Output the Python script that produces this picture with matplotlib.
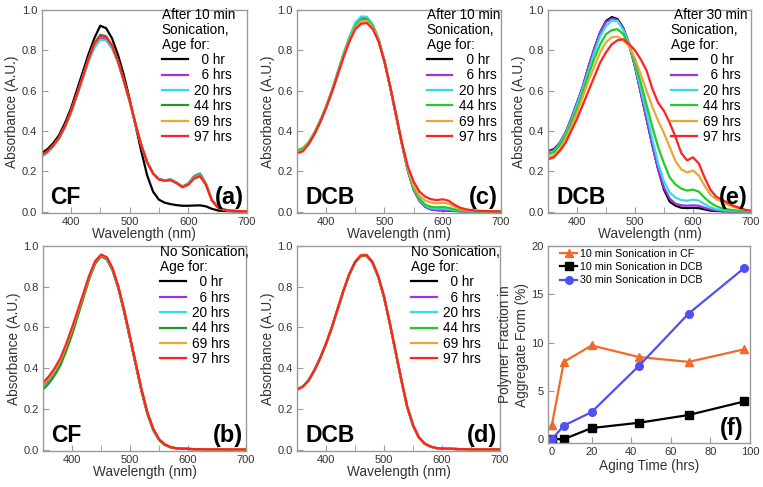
import numpy as np
import matplotlib
matplotlib.use('Agg')
import matplotlib.pyplot as plt
from matplotlib.ticker import MultipleLocator, FormatStrFormatter

plt.rcParams['font.family'] = ['Liberation Sans', 'DejaVu Sans']

# wavelength grid (nm)
wl = list(range(350, 701, 10))

ages = ['  0 hr', '  6 hrs', '20 hrs', '44 hrs', '69 hrs', '97 hrs']

# (a) CF, 10 min sonication
a_0 = [0.29, 0.31, 0.34, 0.38, 0.44, 0.51, 0.60, 0.69, 0.78, 0.86, 0.922, 0.91, 0.86, 0.78, 0.68, 0.56, 0.43, 0.30, 0.18, 0.10,
       0.06, 0.045, 0.038, 0.033, 0.030, 0.030, 0.031, 0.032, 0.027, 0.015, 0.007, 0.004, 0.003, 0.002, 0.002, 0.002]
a_6 = [0.275, 0.295, 0.325, 0.365, 0.42, 0.49, 0.575, 0.66, 0.75, 0.82, 0.862, 0.855, 0.815, 0.745, 0.65, 0.55, 0.435, 0.33, 0.245, 0.19,
       0.162, 0.156, 0.16, 0.145, 0.125, 0.14, 0.178, 0.19, 0.14, 0.06, 0.024, 0.011, 0.006, 0.004, 0.003, 0.002]
a_20 = [0.272, 0.292, 0.322, 0.362, 0.418, 0.487, 0.57, 0.655, 0.742, 0.812, 0.853, 0.848, 0.81, 0.742, 0.648, 0.548, 0.434, 0.33, 0.245, 0.19,
        0.162, 0.156, 0.16, 0.145, 0.125, 0.14, 0.176, 0.188, 0.14, 0.06, 0.024, 0.011, 0.006, 0.004, 0.003, 0.002]
a_44 = [0.278, 0.298, 0.328, 0.368, 0.424, 0.494, 0.58, 0.668, 0.758, 0.835, 0.877, 0.87, 0.825, 0.75, 0.653, 0.552, 0.436, 0.33, 0.245, 0.19,
        0.161, 0.155, 0.159, 0.144, 0.124, 0.138, 0.172, 0.185, 0.138, 0.059, 0.023, 0.011, 0.006, 0.004, 0.003, 0.002]
a_69 = [0.278, 0.298, 0.328, 0.368, 0.424, 0.494, 0.578, 0.665, 0.755, 0.83, 0.87, 0.864, 0.822, 0.748, 0.652, 0.551, 0.436, 0.33, 0.245, 0.19,
        0.16, 0.155, 0.158, 0.143, 0.123, 0.136, 0.168, 0.18, 0.136, 0.058, 0.023, 0.011, 0.006, 0.004, 0.003, 0.002]
a_97 = [0.28, 0.30, 0.33, 0.37, 0.426, 0.496, 0.58, 0.667, 0.757, 0.832, 0.872, 0.866, 0.824, 0.75, 0.653, 0.552, 0.437, 0.33, 0.245, 0.19,
        0.16, 0.154, 0.157, 0.142, 0.122, 0.134, 0.165, 0.176, 0.134, 0.057, 0.022, 0.011, 0.006, 0.004, 0.003, 0.002]

# (b) CF, no sonication
b_0 = [0.31, 0.34, 0.38, 0.43, 0.50, 0.58, 0.67, 0.76, 0.85, 0.92, 0.953, 0.94, 0.885, 0.795, 0.68, 0.55, 0.42, 0.29, 0.18, 0.10,
       0.05, 0.025, 0.012, 0.007, 0.005, 0.004, 0.003, 0.003, 0.002, 0.002, 0.002, 0.002, 0.001, 0.001, 0.001, 0.001]
b_6 = [0.305, 0.335, 0.375, 0.425, 0.495, 0.575, 0.665, 0.755, 0.845, 0.915, 0.948, 0.936, 0.882, 0.793, 0.678, 0.549, 0.42, 0.29, 0.18, 0.10,
       0.05, 0.025, 0.012, 0.007, 0.005, 0.004, 0.003, 0.003, 0.002, 0.002, 0.002, 0.002, 0.001, 0.001, 0.001, 0.001]
b_20 = [0.30, 0.33, 0.37, 0.42, 0.49, 0.57, 0.66, 0.752, 0.843, 0.915, 0.95, 0.938, 0.883, 0.793, 0.678, 0.548, 0.418, 0.288, 0.178, 0.098,
        0.049, 0.024, 0.012, 0.007, 0.005, 0.004, 0.003, 0.003, 0.002, 0.002, 0.002, 0.002, 0.001, 0.001, 0.001, 0.001]
b_44 = [0.295, 0.325, 0.365, 0.415, 0.485, 0.565, 0.657, 0.75, 0.842, 0.914, 0.95, 0.936, 0.88, 0.79, 0.674, 0.544, 0.414, 0.284, 0.175, 0.096,
        0.048, 0.024, 0.012, 0.007, 0.005, 0.004, 0.003, 0.003, 0.002, 0.002, 0.002, 0.002, 0.001, 0.001, 0.001, 0.001]
b_69 = [0.32, 0.35, 0.39, 0.44, 0.51, 0.59, 0.677, 0.765, 0.852, 0.922, 0.955, 0.942, 0.887, 0.797, 0.682, 0.552, 0.422, 0.292, 0.182, 0.102,
        0.051, 0.026, 0.013, 0.007, 0.005, 0.004, 0.003, 0.003, 0.002, 0.002, 0.002, 0.002, 0.001, 0.001, 0.001, 0.001]
b_97 = [0.33, 0.36, 0.40, 0.45, 0.52, 0.60, 0.685, 0.772, 0.858, 0.926, 0.958, 0.945, 0.89, 0.80, 0.684, 0.554, 0.424, 0.294, 0.184, 0.104,
        0.052, 0.026, 0.013, 0.007, 0.005, 0.004, 0.003, 0.003, 0.002, 0.002, 0.002, 0.002, 0.001, 0.001, 0.001, 0.001]

# (c) DCB, 10 min sonication
c_0 = [0.30, 0.31, 0.34, 0.39, 0.45, 0.52, 0.60, 0.69, 0.78, 0.86, 0.925, 0.955, 0.955, 0.92, 0.85, 0.745, 0.615, 0.475, 0.335, 0.205,
       0.11, 0.055, 0.025, 0.012, 0.008, 0.007, 0.006, 0.004, 0.003, 0.002, 0.002, 0.002, 0.002, 0.002, 0.002, 0.002]
c_6 = [0.30, 0.31, 0.34, 0.39, 0.45, 0.52, 0.60, 0.69, 0.78, 0.862, 0.93, 0.962, 0.962, 0.925, 0.853, 0.747, 0.616, 0.475, 0.335, 0.205,
       0.11, 0.055, 0.025, 0.012, 0.008, 0.007, 0.006, 0.004, 0.003, 0.002, 0.002, 0.002, 0.002, 0.002, 0.002, 0.002]
c_20 = [0.30, 0.31, 0.34, 0.39, 0.452, 0.523, 0.604, 0.695, 0.786, 0.868, 0.937, 0.968, 0.966, 0.928, 0.856, 0.75, 0.619, 0.478, 0.338, 0.205,
        0.115, 0.06, 0.03, 0.018, 0.015, 0.016, 0.013, 0.008, 0.005, 0.003, 0.002, 0.002, 0.002, 0.002, 0.002, 0.002]
c_44 = [0.305, 0.315, 0.345, 0.393, 0.452, 0.522, 0.601, 0.69, 0.779, 0.858, 0.922, 0.952, 0.954, 0.92, 0.851, 0.747, 0.618, 0.477, 0.337, 0.21,
        0.12, 0.065, 0.035, 0.025, 0.022, 0.024, 0.02, 0.012, 0.007, 0.004, 0.003, 0.002, 0.002, 0.002, 0.002, 0.002]
c_69 = [0.295, 0.305, 0.338, 0.388, 0.448, 0.518, 0.597, 0.686, 0.774, 0.852, 0.915, 0.943, 0.945, 0.913, 0.847, 0.745, 0.618, 0.478, 0.338, 0.215,
        0.13, 0.08, 0.055, 0.045, 0.042, 0.045, 0.04, 0.025, 0.014, 0.008, 0.005, 0.004, 0.003, 0.002, 0.002, 0.002]
c_97 = [0.29, 0.30, 0.335, 0.385, 0.445, 0.515, 0.593, 0.68, 0.767, 0.845, 0.905, 0.932, 0.935, 0.905, 0.843, 0.743, 0.618, 0.48, 0.34, 0.225,
        0.15, 0.10, 0.075, 0.062, 0.058, 0.062, 0.055, 0.035, 0.02, 0.012, 0.008, 0.005, 0.004, 0.003, 0.002, 0.002]

# (d) DCB, no sonication
d_0 = [0.295, 0.31, 0.34, 0.39, 0.45, 0.52, 0.60, 0.69, 0.78, 0.86, 0.92, 0.952, 0.953, 0.92, 0.85, 0.75, 0.62, 0.48, 0.34, 0.21,
       0.12, 0.06, 0.03, 0.015, 0.008, 0.006, 0.005, 0.004, 0.003, 0.003, 0.002, 0.002, 0.002, 0.002, 0.002, 0.002]
d_6 = [0.295, 0.31, 0.34, 0.39, 0.45, 0.52, 0.60, 0.69, 0.78, 0.86, 0.92, 0.95, 0.951, 0.918, 0.849, 0.749, 0.62, 0.48, 0.34, 0.21,
       0.12, 0.06, 0.03, 0.015, 0.008, 0.006, 0.005, 0.004, 0.003, 0.003, 0.002, 0.002, 0.002, 0.002, 0.002, 0.002]
d_20 = [0.296, 0.311, 0.341, 0.391, 0.451, 0.521, 0.601, 0.691, 0.781, 0.861, 0.921, 0.953, 0.954, 0.921, 0.851, 0.751, 0.621, 0.481, 0.341, 0.211,
        0.12, 0.06, 0.03, 0.015, 0.008, 0.006, 0.005, 0.004, 0.003, 0.003, 0.002, 0.002, 0.002, 0.002, 0.002, 0.002]
d_44 = [0.294, 0.309, 0.339, 0.389, 0.449, 0.519, 0.599, 0.689, 0.779, 0.859, 0.919, 0.951, 0.952, 0.919, 0.849, 0.749, 0.619, 0.479, 0.339, 0.209,
        0.119, 0.06, 0.03, 0.015, 0.008, 0.006, 0.005, 0.004, 0.003, 0.003, 0.002, 0.002, 0.002, 0.002, 0.002, 0.002]
d_69 = [0.292, 0.308, 0.34, 0.39, 0.451, 0.522, 0.603, 0.693, 0.783, 0.863, 0.924, 0.957, 0.958, 0.924, 0.853, 0.752, 0.622, 0.482, 0.342, 0.212,
        0.121, 0.061, 0.031, 0.015, 0.008, 0.006, 0.005, 0.004, 0.003, 0.003, 0.002, 0.002, 0.002, 0.002, 0.002, 0.002]
d_97 = [0.295, 0.31, 0.341, 0.391, 0.451, 0.521, 0.601, 0.691, 0.781, 0.861, 0.921, 0.953, 0.955, 0.922, 0.852, 0.752, 0.622, 0.482, 0.342, 0.212,
        0.121, 0.061, 0.031, 0.016, 0.009, 0.006, 0.005, 0.004, 0.003, 0.003, 0.002, 0.002, 0.002, 0.002, 0.002, 0.002]

# (e) DCB, 30 min sonication
e_0 = [0.30, 0.31, 0.34, 0.39, 0.46, 0.54, 0.62, 0.72, 0.81, 0.89, 0.945, 0.965, 0.955, 0.91, 0.83, 0.72, 0.59, 0.46, 0.33, 0.21,
       0.11, 0.05, 0.03, 0.02, 0.018, 0.02, 0.018, 0.012, 0.006, 0.004, 0.003, 0.002, 0.002, 0.002, 0.002, 0.002]
e_6 = [0.295, 0.305, 0.34, 0.39, 0.46, 0.54, 0.62, 0.72, 0.81, 0.89, 0.94, 0.958, 0.95, 0.905, 0.83, 0.72, 0.59, 0.46, 0.33, 0.21,
       0.12, 0.065, 0.04, 0.032, 0.03, 0.032, 0.03, 0.02, 0.012, 0.007, 0.005, 0.004, 0.003, 0.002, 0.002, 0.002]
e_20 = [0.29, 0.30, 0.335, 0.385, 0.45, 0.53, 0.61, 0.70, 0.79, 0.87, 0.92, 0.948, 0.945, 0.90, 0.83, 0.73, 0.61, 0.49, 0.36, 0.24,
        0.15, 0.095, 0.07, 0.058, 0.055, 0.06, 0.056, 0.038, 0.022, 0.013, 0.009, 0.006, 0.004, 0.003, 0.002, 0.002]
e_44 = [0.285, 0.295, 0.33, 0.375, 0.44, 0.51, 0.59, 0.68, 0.76, 0.83, 0.88, 0.90, 0.905, 0.88, 0.82, 0.74, 0.64, 0.53, 0.42, 0.32,
        0.24, 0.17, 0.135, 0.115, 0.105, 0.11, 0.10, 0.07, 0.045, 0.028, 0.018, 0.012, 0.008, 0.005, 0.003, 0.002]
e_69 = [0.27, 0.28, 0.31, 0.36, 0.42, 0.49, 0.57, 0.65, 0.72, 0.79, 0.84, 0.865, 0.868, 0.85, 0.82, 0.76, 0.68, 0.60, 0.52, 0.45,
        0.39, 0.32, 0.25, 0.21, 0.195, 0.205, 0.18, 0.13, 0.085, 0.062, 0.05, 0.035, 0.024, 0.015, 0.008, 0.004]
e_97 = [0.26, 0.27, 0.30, 0.34, 0.40, 0.46, 0.53, 0.60, 0.67, 0.74, 0.79, 0.83, 0.85, 0.855, 0.83, 0.80, 0.755, 0.70, 0.61, 0.54,
        0.50, 0.44, 0.37, 0.29, 0.255, 0.27, 0.24, 0.17, 0.11, 0.075, 0.06, 0.045, 0.03, 0.02, 0.01, 0.005]

# (f) aggregate fraction vs aging time
aging_time = [0, 6, 20, 44, 69, 97]
cf_10min = [1.5, 8.0, 9.7, 8.5, 8.0, 9.3]
dcb_10min = [0.0, 0.0, 1.15, 1.7, 2.5, 3.9]
dcb_30min = [0.0, 1.4, 2.8, 7.6, 13.0, 17.7]

spine_col = '#9a9a9a'
text_col = '#333333'


def style_axes(ax):
    for s in ax.spines.values():
        s.set_color(spine_col)
        s.set_linewidth(1.0)
    ax.tick_params(which='both', direction='in', color=spine_col, labelcolor=text_col,
                   labelsize=8, top=False, right=False, pad=3, length=4)


def spectrum_panel(rect, curves, colors, header, solvent, tag):
    ax = fig.add_axes(rect)
    lines = []
    for y, c in zip(curves, colors):
        ln, = ax.plot(wl, y, color=c, lw=1.6)
        lines.append(ln)
    ax.set_xlim(350, 700)
    ax.set_ylim(-0.006, 1.0)
    ax.xaxis.set_major_locator(MultipleLocator(100))
    ax.xaxis.set_minor_locator(MultipleLocator(50))
    ax.yaxis.set_major_locator(MultipleLocator(0.2))
    ax.yaxis.set_major_formatter(FormatStrFormatter('%.1f'))
    style_axes(ax)
    ax.set_xlabel('Wavelength (nm)', fontsize=9.8, color=text_col, labelpad=0)
    ax.set_ylabel('Absorbance (A.U.)', fontsize=9.8, color=text_col, labelpad=2)
    leg = ax.legend(lines, ages, loc='upper left', bbox_to_anchor=header[1], frameon=False,
                    fontsize=9.8, title=header[0], title_fontsize=9.8, alignment='left',
                    handlelength=1.9, handletextpad=0.5, labelspacing=0.1, borderpad=0,
                    borderaxespad=0)
    leg.get_title().set_linespacing(1.08)
    ax.text(0.04, 0.045, solvent, transform=ax.transAxes, fontsize=16.5, fontweight='bold',
            ha='left', va='baseline')
    ax.text(0.985, 0.045, tag, transform=ax.transAxes, fontsize=17, fontweight='bold',
            ha='right', va='baseline')
    return ax


fig = plt.figure(figsize=(7.63, 4.87), dpi=100)

cols_dark = ['black', '#9933ee', '#33dde8', '#229922', '#eea733', '#ff2222']
cols_bright = ['black', '#9933ee', '#33dde8', '#22cc22', '#e8a838', '#ff2222']

spectrum_panel([0.0544, 0.5626, 0.2693, 0.4169], [a_0, a_6, a_20, a_44, a_69, a_97], cols_dark,
               ('After 10 min\nSonication,\nAge for:', (0.585, 1.01)), 'CF', '(a)')
spectrum_panel([0.3893, 0.5626, 0.2674, 0.4169], [c_0, c_6, c_20, c_44, c_69, c_97], cols_bright,
               ('After 10 min\nSonication,\nAge for:', (0.635, 1.01)), 'DCB', '(c)')
spectrum_panel([0.7182, 0.5626, 0.2660, 0.4169], [e_0, e_6, e_20, e_44, e_69, e_97], cols_bright,
               (' After 30 min\nSonication,\nAge for:', (0.605, 1.01)), 'DCB', '(e)')
spectrum_panel([0.0564, 0.0740, 0.2660, 0.4209], [b_0, b_6, b_20, b_44, b_69, b_97], cols_dark,
               ('No Sonication,\nAge for:', (0.575, 1.005)), 'CF', '(b)')
spectrum_panel([0.3893, 0.0740, 0.2660, 0.4209], [d_0, d_6, d_20, d_44, d_69, d_97], cols_bright,
               ('No Sonication,\nAge for:', (0.56, 1.005)), 'DCB', '(d)')

# (f)
axf = fig.add_axes([0.7182, 0.0903, 0.2647, 0.4046])
axf.plot(aging_time, cf_10min, color='#f26a2a', marker='^', ms=6, lw=1.6, label='10 min Sonication in CF')
axf.plot(aging_time, dcb_10min, color='black', marker='s', ms=5.5, lw=1.6, label='10 min Sonication in DCB')
axf.plot(aging_time, dcb_30min, color='#5050f0', marker='o', ms=5.5, lw=1.6, label='30 min Sonication in DCB')
axf.set_xlim(-2, 100)
axf.set_ylim(-0.4, 20)
axf.xaxis.set_major_locator(MultipleLocator(20))
axf.yaxis.set_major_locator(MultipleLocator(5))
style_axes(axf)
axf.set_xlabel('Aging Time (hrs)', fontsize=9.8, color=text_col, labelpad=1)
axf.set_ylabel('Polymer Fraction in\nAggregate Form (%)', fontsize=9.8, color=text_col, labelpad=2)
axf.legend(loc='upper left', bbox_to_anchor=(0.06, 0.985), frameon=False, fontsize=7.7,
           handlelength=1.6, handletextpad=0.3, labelspacing=0.3, borderpad=0, borderaxespad=0)
axf.text(0.97, 0.04, '(f)', transform=axf.transAxes, fontsize=17, fontweight='bold',
         ha='right', va='baseline')

fig.savefig('out.png', dpi=100)
